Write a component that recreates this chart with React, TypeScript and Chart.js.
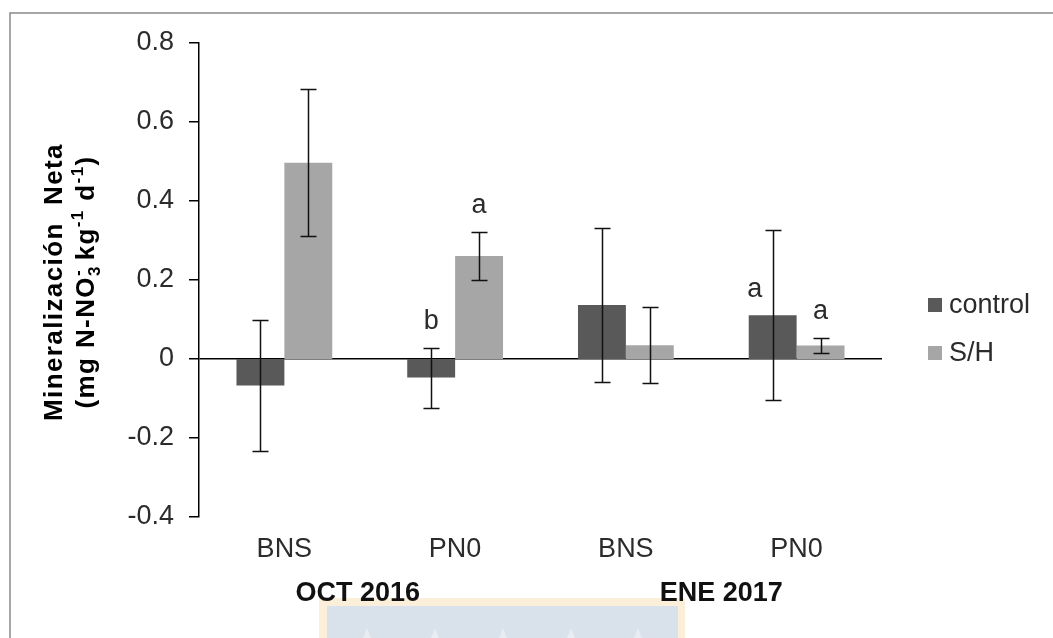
import { useEffect, useRef } from "react";
import { Chart, registerables } from "chart.js";

Chart.register(...registerables);

// Sites within each sampling period
const sites = ["BNS", "PN0", "BNS", "PN0"];
const periods = ["OCT 2016", "ENE 2017"];
const seriesNames = ["control", "S/H"];

// Net mineralization (mg N-NO3- kg-1 d-1) and error-bar half widths
const controlValues = [-0.067, -0.047, 0.137, 0.111];
const controlErrors = [0.167, 0.076, 0.195, 0.216];
const shValues = [0.497, 0.261, 0.035, 0.034];
const shErrors = [0.186, 0.061, 0.097, 0.02];

// Value axis range
const yMin = -0.4;
const yMax = 0.8;
const yStep = 0.2;

// Significance letters: dataset index, category index, letter
const letterSeries = [0, 1, 0, 1];
const letterIndex = [1, 1, 3, 3];
const letterText = ["b", "a", "a", "a"];

const FONT = "'Liberation Sans', Arial, sans-serif";
const DARK = "#595959";
const LIGHT = "#a6a6a6";

const decorPlugin = {
  id: "decor",
  beforeDraw(chart: any) {
    const { ctx, width, height } = chart;
    ctx.save();
    ctx.fillStyle = "#ffffff";
    ctx.fillRect(0, 0, width, height);

    // faint institutional mark at the foot of the figure
    ctx.fillStyle = "#fcefd9";
    ctx.fillRect(319, 598, 366, height - 598);
    ctx.fillStyle = "#d9e1ea";
    ctx.fillRect(327, 606, 351, height - 606);
    ctx.fillStyle = "#e8edf3";
    [367, 435, 503, 571, 638].forEach((px) => {
      ctx.beginPath();
      ctx.moveTo(px - 4, height);
      ctx.lineTo(px, 628);
      ctx.lineTo(px + 4, height);
      ctx.closePath();
      ctx.fill();
    });

    // figure frame
    ctx.strokeStyle = "#8a8a8a";
    ctx.lineWidth = 1.5;
    ctx.beginPath();
    ctx.moveTo(10, height);
    ctx.lineTo(10, 13);
    ctx.lineTo(width, 13);
    ctx.stroke();
    ctx.restore();
  },
  afterDatasetsDraw(chart: any) {
    const { ctx } = chart;
    const y = chart.scales.y;
    const errs = [controlErrors, shErrors];
    ctx.save();
    ctx.strokeStyle = "#111111";
    ctx.lineWidth = 1.5;
    chart.data.datasets.forEach((ds: any, di: number) => {
      const meta = chart.getDatasetMeta(di);
      meta.data.forEach((bar: any, i: number) => {
        const v = ds.data[i];
        const e = errs[di][i];
        const top = Math.round(y.getPixelForValue(v + e)) + 0.5;
        const bot = Math.round(y.getPixelForValue(v - e)) + 0.5;
        const x = Math.round(bar.x) + 0.5;
        ctx.beginPath();
        ctx.moveTo(x, top);
        ctx.lineTo(x, bot);
        ctx.moveTo(x - 8, top);
        ctx.lineTo(x + 8, top);
        ctx.moveTo(x - 8, bot);
        ctx.lineTo(x + 8, bot);
        ctx.stroke();
      });
    });

    // significance letters
    ctx.fillStyle = "#2b2b2b";
    ctx.font = `27px ${FONT}`;
    ctx.textAlign = "center";
    ctx.textBaseline = "middle";
    letterText.forEach((t, k) => {
      const di = letterSeries[k];
      const i = letterIndex[k];
      const bar = chart.getDatasetMeta(di).data[i];
      const v = chart.data.datasets[di].data[i];
      const e = errs[di][i];
      const capTop = y.getPixelForValue(v + e);
      const barTop = y.getPixelForValue(Math.max(v, 0));
      // this letter sits beside the whisker, just above its bar
      if (di === 0 && i === 3) {
        ctx.fillText(t, bar.x - 18, barTop - 26);
      } else {
        ctx.fillText(t, bar.x, capTop - 26);
      }
    });
    ctx.restore();
  },
  afterDraw(chart: any) {
    const { ctx, chartArea } = chart;
    const x = chart.scales.x;
    ctx.save();

    // period labels under the site labels
    ctx.fillStyle = "#111111";
    ctx.font = `bold 27px ${FONT}`;
    ctx.textAlign = "center";
    ctx.textBaseline = "middle";
    const mid1 = (x.getPixelForValue(0) + x.getPixelForValue(1)) / 2;
    const mid2 = (x.getPixelForValue(2) + x.getPixelForValue(3)) / 2;
    ctx.fillText(periods[0], mid1 - 12, 594);
    ctx.fillText(periods[1], mid2 + 10, 594);

    // legend
    const lx = chartArea.right + 46;
    const cy = (chartArea.top + chartArea.bottom) / 2;
    const colors = [DARK, LIGHT];
    ctx.font = `27px ${FONT}`;
    ctx.textAlign = "left";
    seriesNames.forEach((name, k) => {
      const ly = cy + 25 + k * 48;
      ctx.fillStyle = colors[k];
      ctx.fillRect(lx, ly - 7, 14, 14);
      ctx.fillStyle = "#2b2b2b";
      ctx.fillText(name, lx + 21, ly + 1);
    });

    // rotated value-axis title with sub/superscripts
    const cyTitle = cy + 2;
    ctx.fillStyle = "#000000";
    ctx.textBaseline = "alphabetic";
    ctx.textAlign = "left";
    (ctx as any).letterSpacing = "1.4px";
    const big = `bold 26px ${FONT}`;
    const small = `bold 17px ${FONT}`;
    const line1 = "Mineralización  Neta";
    ctx.font = big;
    const w1 = ctx.measureText(line1).width;
    ctx.save();
    ctx.translate(62, cyTitle);
    ctx.rotate(-Math.PI / 2);
    ctx.fillText(line1, -w1 / 2, 0);
    ctx.restore();

    const parts: [string, string, number][] = [
      ["(mg N-NO", big, 0],
      ["3", small, 6],
      ["-", small, -11],
      [" kg", big, 0],
      ["-1", small, -11],
      [" d", big, 0],
      ["-1", small, -11],
      [")", big, 0],
    ];
    let total = 0;
    const widths = parts.map(([s, f]) => {
      ctx.font = f;
      const w = ctx.measureText(s).width;
      total += w;
      return w;
    });
    // subscript 3 and superscript minus share one horizontal slot
    total -= widths[1];
    ctx.save();
    ctx.translate(94, cyTitle);
    ctx.rotate(-Math.PI / 2);
    let pos = -total / 2;
    parts.forEach(([s, f, shift], k) => {
      ctx.font = f;
      ctx.fillText(s, pos, shift);
      if (k === 1) return;
      pos += widths[k];
    });
    ctx.restore();
    (ctx as any).letterSpacing = "0px";
    ctx.restore();
  },
};

export default function App() {
  const canvasRef = useRef<HTMLCanvasElement | null>(null);

  useEffect(() => {
    if (!canvasRef.current) return;
    const chart = new Chart(canvasRef.current, {
      type: "bar",
      data: {
        labels: sites,
        datasets: [
          {
            label: seriesNames[0],
            data: controlValues,
            backgroundColor: DARK,
            borderWidth: 0,
            categoryPercentage: 0.561,
            barPercentage: 1,
          },
          {
            label: seriesNames[1],
            data: shValues,
            backgroundColor: LIGHT,
            borderWidth: 0,
            categoryPercentage: 0.561,
            barPercentage: 1,
          },
        ],
      },
      options: {
        animation: false,
        responsive: true,
        maintainAspectRatio: false,
        layout: { padding: { top: 43, right: 171, left: 0, bottom: 0 } },
        plugins: {
          legend: { display: false },
          tooltip: { enabled: false },
          title: { display: false },
        },
        scales: {
          x: {
            grid: { display: false, drawTicks: false },
            border: { display: false },
            ticks: {
              font: { family: FONT, size: 27 },
              color: "#2b2b2b",
              padding: 16,
            },
            afterFit(scale: any) {
              scale.height = 121;
            },
          },
          y: {
            min: yMin,
            max: yMax,
            border: { display: true, color: "#000000", width: 1.5 },
            grid: {
              drawOnChartArea: true,
              drawTicks: true,
              tickLength: 10,
              lineWidth: 1.5,
              tickColor: "#000000",
              color: (c: any) =>
                c.tick && Math.abs(c.tick.value) < 1e-9 ? "#000000" : "rgba(0,0,0,0)",
            },
            ticks: {
              stepSize: yStep,
              font: { family: FONT, size: 27 },
              color: "#2b2b2b",
              padding: 15,
              callback: (v: any) => String(Number(Number(v).toFixed(1))),
            },
            afterFit(scale: any) {
              scale.width = 199;
            },
          },
        },
      },
      plugins: [decorPlugin],
    });
    return () => chart.destroy();
  }, []);

  return (
    <div
      style={{
        position: "absolute",
        left: 0,
        top: 0,
        width: 1053,
        height: 638,
        background: "#ffffff",
      }}
    >
      <canvas ref={canvasRef} />
    </div>
  );
}
